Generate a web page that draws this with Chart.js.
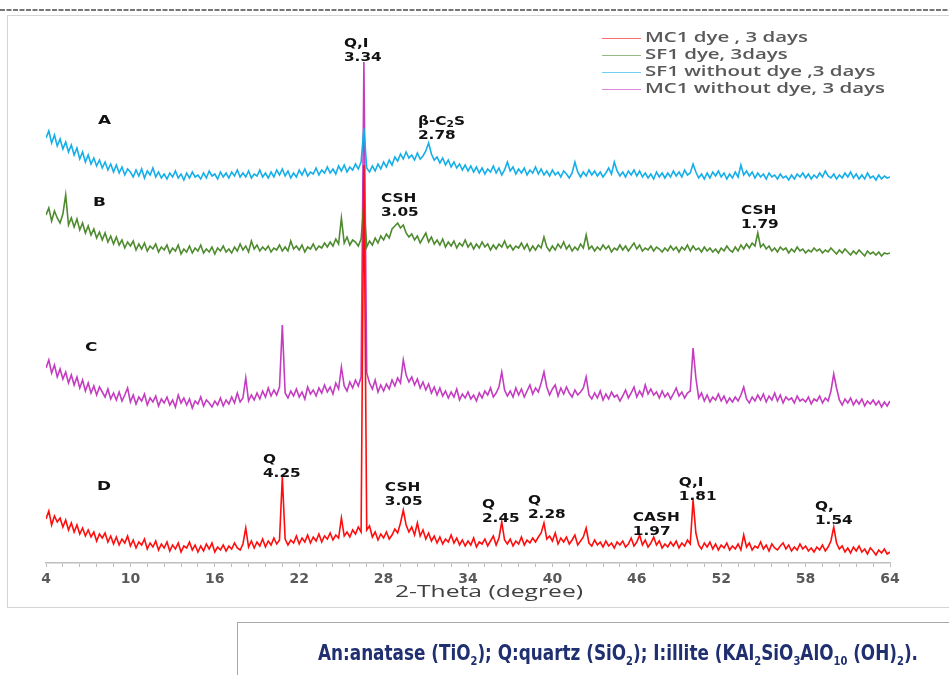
<!DOCTYPE html>
<html><head><meta charset="utf-8">
<script src="https://cdn.jsdelivr.net/npm/chart.js@4.4.1/dist/chart.umd.min.js"></script>
<style>html,body{margin:0;padding:0;background:#fff;overflow:hidden}canvas{display:block}</style>
</head><body>
<canvas id="c" width="949" height="675"></canvas>
<script>
// 2-theta grid of the recorded patterns
const thetaStart = 4, thetaStep = 0.2;
const seriesLabels = ['MC1 dye , 3 days', 'SF1 dye, 3days', 'SF1 without dye ,3 days', 'MC1 without dye, 3 days'];
const seriesColors = ['#ff0d0d', '#4e8b2f', '#14aee8', '#c43cc0'];

// D : MC1 dye, 3 days (offset intensity)
const mc1Dye = [
44,52,38,47,41, 45,36,43,33,40, 31,38,29,35,27, 33,26,31,22,29, 25,30,21,27,19, 26,18,24,20,27,
17,23,15,21,18, 24,14,20,16,22, 13,19,15,21,12, 18,14,20,11,17, 15,21,13,18,11, 17,12,19,14,20,
11,16,13,18,12, 17,14,20,15,13, 19,35,16,22,15, 21,17,24,16,22, 18,25,19,23,86, 24,18,23,20,27,
19,25,21,28,20, 26,22,29,21,27, 24,30,23,28,25, 45,27,31,26,33, 29,36,31,398,33, 37,26,31,23,29,
25,31,24,28,34, 30,40,53,38,31, 36,28,40,27,33, 24,30,22,27,20, 26,19,24,21,28, 20,25,18,23,17,
22,18,25,16,21, 19,24,17,22,27, 18,25,41,23,19, 24,17,22,19,26, 18,23,20,25,21, 26,30,40,24,27,
22,30,19,25,21, 26,19,23,28,18, 22,26,35,20,17, 23,18,21,16,22, 17,20,15,21,18, 22,16,19,25,17,
21,28,18,23,16, 20,26,18,22,15, 19,16,21,17,22, 15,20,17,23,19, 63,30,18,14,20, 16,21,14,19,13,
18,15,20,13,17, 14,19,13,28,16, 20,13,17,15,21, 14,18,12,19,15, 13,17,20,14,18, 12,16,13,19,14,
17,12,15,11,16, 13,18,12,16,22, 36,20,14,17,11, 15,10,16,12,17, 11,14,9,15,12, 8,13,10,14,9,
11];

// B : SF1 dye, 3 days
const sf1Dye = [
348,355,342,352,345, 340,349,368,338,345, 336,344,333,340,330, 337,328,334,325,331, 323,330,321,327,319, 326,318,323,315,321,
317,322,313,319,314, 320,312,317,314,319, 311,316,313,318,310, 315,312,318,309,314, 311,317,310,315,312, 318,310,314,311,316,
309,315,312,317,311, 314,310,316,312,319, 313,317,311,322,314, 318,312,316,313,317, 311,315,313,318,312, 316,312,322,314,317,
313,318,311,316,314, 319,313,317,315,320, 316,321,317,324,319, 345,320,326,318,323, 321,317,324,360,316, 322,318,325,320,327,
323,329,325,334,337, 340,335,338,330,326, 329,323,327,320,325, 330,321,326,319,323, 318,324,316,321,317, 322,315,320,317,323,
316,320,314,319,315, 321,316,319,313,318, 314,319,316,322,315, 318,313,317,315,320, 314,319,312,317,313, 318,315,326,316,312,
317,313,319,315,321, 314,318,312,316,313, 319,315,328,314,317, 312,316,313,318,314, 317,311,315,313,318, 313,317,312,316,320,
314,318,312,315,313, 317,312,316,314,311, 315,312,317,313,316, 311,316,313,318,312, 317,313,315,311,316, 312,315,311,314,310,
315,312,317,313,311, 316,312,318,314,319, 315,320,317,330,316, 319,314,317,312,315, 311,316,313,315,310, 314,311,316,312,314,
310,313,311,315,312, 314,310,313,311,315, 312,309,313,310,314, 311,308,312,309,313, 310,307,312,309,311, 308,311,307,310,309,
310];

// A : SF1 without dye, 3 days
const sf1NoDye = [
425,432,420,428,417, 424,414,421,411,418, 408,415,404,411,401, 408,399,405,397,403, 395,401,393,399,391, 398,390,396,388,394,
391,386,393,387,394, 385,392,388,395,386, 391,385,389,384,390, 386,392,385,389,383, 390,385,391,386,388, 384,390,385,392,387,
389,384,391,386,390, 385,391,387,393,386, 390,386,392,385,389, 387,393,386,390,385, 391,386,393,388,394, 387,392,385,390,386,
393,388,394,387,391, 389,395,388,393,390, 396,390,394,389,397, 392,398,391,396,393, 399,394,401,435,395, 391,397,392,399,394,
401,396,403,398,406, 402,409,404,411,405, 408,403,410,404,407, 412,420,409,403,406, 400,405,398,403,396, 401,395,399,393,398,
392,397,391,396,390, 395,389,394,391,397, 390,395,388,393,401, 392,396,389,394,390, 395,388,393,390,396, 389,394,388,392,387,
393,388,391,386,392, 389,385,390,401,391, 386,391,387,393,388, 392,387,391,386,390, 395,389,401,392,387, 391,386,392,388,393,
387,392,386,390,385, 389,384,391,386,390, 385,390,386,392,387, 391,386,393,388,390, 399,391,385,389,384, 390,385,391,387,392,
386,390,384,389,385, 391,386,398,388,392, 387,391,385,390,386, 389,384,390,386,388, 384,389,385,387,383, 388,384,389,386,390,
385,389,384,388,385, 390,386,392,387,385, 389,384,388,385,390, 386,391,385,389,384, 388,384,390,385,387, 383,388,384,387,385,
386];

// C : MC1 without dye, 3 days
const mc1NoDye = [
195,203,190,198,186, 194,184,191,180,188, 178,186,175,183,172, 180,170,177,168,176, 171,166,174,164,170, 163,171,162,168,175,
161,168,159,166,162, 169,158,165,161,167, 157,164,160,166,158, 163,156,168,160,165, 158,164,155,162,159, 166,157,163,160,156,
162,158,165,157,163, 159,166,160,170,161, 165,185,162,168,163, 170,164,172,166,175, 167,173,168,176,238, 170,165,172,167,174,
166,171,164,176,169, 173,167,175,170,178, 171,176,169,180,174, 196,177,172,181,175, 183,177,186,501,190, 180,174,183,171,178,
172,179,174,183,177, 185,180,203,188,181, 186,178,184,175,181, 173,179,170,176,168, 175,167,172,165,171, 166,174,163,169,165,
171,164,168,162,170, 165,172,168,175,166, 170,176,191,173,167, 172,166,175,168,174, 166,172,178,169,175, 171,180,191,176,168,
174,178,167,175,169, 176,170,166,173,168, 171,175,186,168,164, 170,165,172,163,169, 164,171,166,168,162, 167,173,165,170,176,
166,172,167,178,169, 174,168,171,165,172, 166,170,164,169,175, 167,171,165,170,172, 215,185,165,170,162, 168,161,166,163,169,
162,167,160,165,161, 166,162,168,176,164, 160,166,162,168,163, 169,161,167,163,170, 162,168,160,166,163, 165,160,167,162,164,
161,166,159,164,162, 167,160,165,162,172, 189,175,163,158,164, 160,165,158,163,159, 164,157,162,159,163, 158,162,156,161,157,
162];

const xTickLabels = [4, 10, 16, 22, 28, 34, 40, 46, 52, 58, 64];
const minorPerMajor = 5;
const xAxisTitle = '2-Theta (degree)';

// peak annotations: [theta, intensity] anchor of the first line
const peakNotes = [
  {lines: ['Q,I', '3.34'], at: [25.18, 519]},
  {lines: ['β-C_2S', '2.78'], at: [30.44, 441]},
  {lines: ['CSH', '3.05'], at: [27.81, 364]},
  {lines: ['CSH', '1.79'], at: [53.40, 352]},
  {lines: ['Q', '4.25'], at: [19.42, 103]},
  {lines: ['CSH', '3.05'], at: [28.09, 75]},
  {lines: ['Q', '2.45'], at: [34.99, 58]},
  {lines: ['Q', '2.28'], at: [38.26, 62]},
  {lines: ['CASH', '1.97'], at: [45.72, 45]},
  {lines: ['Q,I', '1.81'], at: [48.99, 80]},
  {lines: ['Q,', '1.54'], at: [58.66, 56]}
];
const curveNames = [
  {text: 'A', at: [7.70, 442]},
  {text: 'B', at: [7.34, 360]},
  {text: 'C', at: [6.77, 215]},
  {text: 'D', at: [7.62, 76]}
];
const captionText = 'An:anatase (TiO_2); Q:quartz (SiO_2); I:illite (KAl_2SiO_3AlO_10 (OH)_2).';

// ---------- helpers ----------
function segs(str) {
  const parts = str.split(/_(\d+)/);
  return parts.map((t, i) => ({t, sub: i % 2 === 1})).filter(s => s.t.length);
}
function richWidth(ctx, str, font, subFont) {
  let w = 0;
  for (const s of segs(str)) { ctx.font = s.sub ? subFont : font; w += ctx.measureText(s.t).width; }
  return w;
}
function drawRich(ctx, str, x, y, font, subFont, sx, color, subDy) {
  ctx.save();
  ctx.fillStyle = color; ctx.textBaseline = 'middle'; ctx.textAlign = 'left';
  ctx.translate(x, y); ctx.scale(sx, 1);
  let cx = 0;
  for (const s of segs(str)) {
    ctx.font = s.sub ? subFont : font;
    ctx.fillText(s.t, cx, s.sub ? subDy : 0);
    cx += ctx.measureText(s.t).width;
  }
  ctx.restore();
}

const majorsAndMinors = [];
for (let i = 0; i < xTickLabels.length; i++) {
  majorsAndMinors.push(xTickLabels[i]);
  if (i < xTickLabels.length - 1) {
    const step = (xTickLabels[i + 1] - xTickLabels[i]) / minorPerMajor;
    for (let k = 1; k < minorPerMajor; k++) majorsAndMinors.push(xTickLabels[i] + k * step);
  }
}

const allSeries = [mc1Dye, sf1Dye, sf1NoDye, mc1NoDye];
const toPoints = arr => arr.map((v, i) => ({x: Math.round((thetaStart + i * thetaStep) * 100) / 100, y: v}));

const decor = {
  id: 'decor',
  beforeDraw(chart) {
    const ctx = chart.ctx;
    ctx.save();
    ctx.fillStyle = '#fff'; ctx.fillRect(0, 0, chart.width, chart.height);
    ctx.strokeStyle = '#4a4a4a'; ctx.lineWidth = 1.5; ctx.setLineDash([5, 1.5]);
    ctx.beginPath(); ctx.moveTo(0, 10); ctx.lineTo(949, 10); ctx.stroke();
    ctx.setLineDash([]);
    ctx.strokeStyle = '#d4d4d4'; ctx.lineWidth = 1;
    ctx.strokeRect(7.5, 15.5, 960, 592);
    ctx.strokeStyle = '#a8a8a8';
    ctx.strokeRect(237.5, 622.5, 760, 80);
    ctx.restore();
  },
  afterDraw(chart) {
    const ctx = chart.ctx, xs = chart.scales.x, ys = chart.scales.y;
    // legend
    const lf = '600 14px "Open Sans"';
    ctx.font = lf;
    const longest = Math.max(...seriesLabels.map(s => ctx.measureText(s).width));
    const lsx = 240 / longest;
    chart.data.datasets.forEach((ds, i) => {
      const y = 38 + i * 17;
      ctx.save();
      ctx.globalAlpha = 0.6; ctx.strokeStyle = ds.borderColor; ctx.lineWidth = 1;
      ctx.beginPath(); ctx.moveTo(602, y + 0.5); ctx.lineTo(641, y + 0.5); ctx.stroke();
      ctx.restore();
      drawRich(ctx, ds.label, 645, y, lf, lf, lsx, '#595959', 0);
    });
    // annotations
    const af = 'bold 13px "DejaVu Sans"', asf = 'bold 9px "DejaVu Sans"';
    peakNotes.forEach(n => {
      const px = xs.getPixelForValue(n.at[0]), py = ys.getPixelForValue(n.at[1]);
      n.lines.forEach((t, j) => drawRich(ctx, t, px, py + j * 14, af, asf, 1.18, '#111', 3));
    });
    curveNames.forEach(c => {
      const px = xs.getPixelForValue(c.at[0]), py = ys.getPixelForValue(c.at[1]);
      drawRich(ctx, c.text, px, py, 'bold 13px "DejaVu Sans"', af, 1.3, '#111', 0);
    });
    // axis title
    const tf = '16px "Open Sans"';
    ctx.font = tf;
    const tw = ctx.measureText(xAxisTitle).width;
    drawRich(ctx, xAxisTitle, 395, 592, tf, tf, 188 / tw, '#404040', 0);
    // caption
    const cf = 'bold 22px "Liberation Sans Narrow", "DejaVu Sans Condensed", sans-serif';
    const csf = 'bold 13px "Liberation Sans Narrow", "DejaVu Sans Condensed", sans-serif';
    const cw = richWidth(ctx, captionText, cf, csf);
    drawRich(ctx, captionText, 318, 654, cf, csf, 600 / cw, '#1f2f70', 8);
  }
};

new Chart(document.getElementById('c'), {
  type: 'line',
  data: {
    datasets: allSeries.map((arr, i) => ({
      label: seriesLabels[i],
      data: toPoints(arr),
      borderColor: seriesColors[i],
      backgroundColor: seriesColors[i],
      borderWidth: 1.6,
      pointRadius: 0,
      tension: 0,
      fill: false
    }))
  },
  options: {
    responsive: false,
    animation: false,
    devicePixelRatio: 1,
    layout: {padding: {top: 30, left: 46, right: 59, bottom: 84}},
    plugins: {legend: {display: false}, tooltip: {enabled: false}},
    scales: {
      x: {
        type: 'linear', min: 4, max: 64,
        afterFit(s) { s.height = 28; },
        afterBuildTicks(s) { s.ticks = majorsAndMinors.map(v => ({value: v})); },
        ticks: {
          autoSkip: false, maxRotation: 0, padding: 4, color: '#595959',
          font: {family: 'DejaVu Sans', weight: 'bold', size: 14},
          callback: v => xTickLabels.some(t => Math.abs(t - v) < 1e-6) ? String(Math.round(v)) : ''
        },
        grid: {display: true, drawOnChartArea: false, drawTicks: true, tickLength: 4, color: '#bfbfbf'},
        border: {display: true, color: '#bfbfbf', width: 1.5}
      },
      y: {display: false, min: 0, max: 533}
    }
  },
  plugins: [decor]
});
</script>
</body></html>
